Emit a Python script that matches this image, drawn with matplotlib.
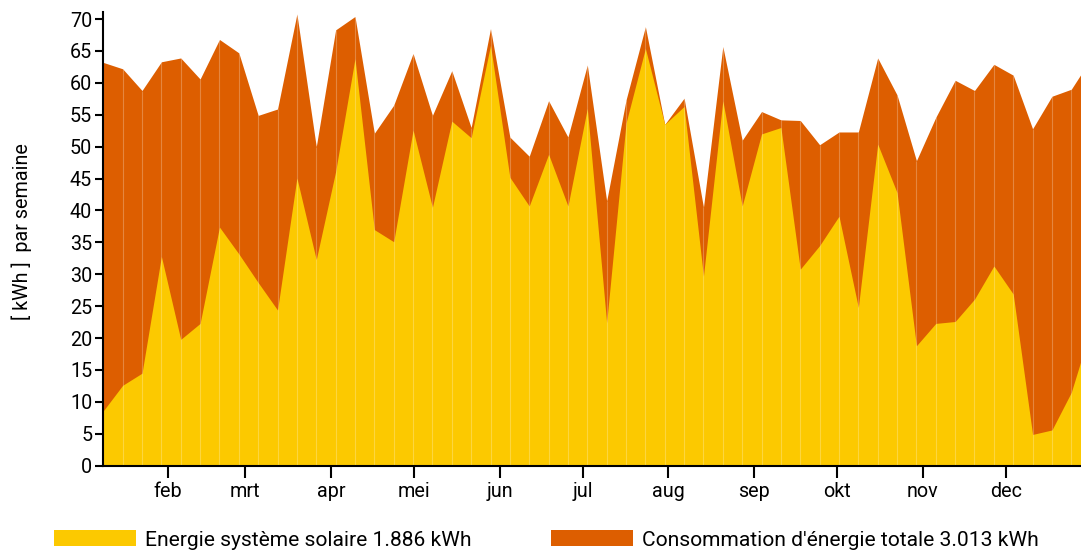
import numpy as np
import matplotlib
matplotlib.use("Agg")
import matplotlib.pyplot as plt
from matplotlib.patches import Patch

# ---- data (kWh per week) ----
solar = [8.6, 12.6, 14.5, 32.8, 19.8, 22.3, 37.4, 33.2, 28.7, 24.4,
         45.1, 32.3, 46.1, 63.8, 37.0, 35.1, 52.6, 40.5, 54.0, 51.4,
         65.9, 45.2, 40.7, 48.8, 40.7, 56.0, 22.4, 53.7, 65.4, 53.5,
         56.3, 29.7, 57.2, 40.7, 52.0, 53.0, 30.8, 34.5, 39.1, 24.8,
         50.4, 42.8, 18.8, 22.3, 22.6, 26.1, 31.3, 26.9, 4.9, 5.6,
         11.5, 21.4]
total = [63.2, 62.2, 58.8, 63.3, 63.9, 60.6, 66.8, 64.7, 54.9, 55.9,
         70.8, 50.0, 68.3, 70.4, 52.1, 56.5, 64.6, 54.9, 61.9, 53.0,
         68.5, 51.5, 48.5, 57.2, 51.5, 62.8, 41.5, 57.3, 68.8, 53.5,
         57.6, 40.5, 65.7, 51.0, 55.5, 54.2, 54.1, 50.3, 52.3, 52.3,
         63.9, 58.1, 47.8, 54.6, 60.4, 58.8, 62.9, 61.2, 52.8, 57.9,
         59.0, 63.7]
months = ["feb", "mrt", "apr", "mei", "jun", "jul", "aug", "sep", "okt", "nov", "dec"]
month_start_doy = [31, 59, 90, 120, 151, 181, 212, 243, 273, 304, 334]
yticks = list(range(0, 71, 5))
label_solar = "Energie système solaire 1.886 kWh"
label_total = "Consommation d'énergie totale 3.013 kWh"
ylabel = "[ kWh ]  par semaine"

YELLOW = "#FCC900"
ORANGE = "#DD5E00"
FONT = ["Roboto", "DejaVu Sans"]
FS = 14.2
LFS = 15.1
LPX = LFS * 100 / 72

plt.rcParams["font.family"] = FONT

W, H = 1081, 551
fig = plt.figure(figsize=(W / 100, H / 100), dpi=100)
ax = fig.add_axes([103.3 / W, (H - 465.7) / H, (W - 103.3) / W, (465.7 - 11.7) / H])

x = np.arange(len(solar))
ax.fill_between(x, 0, total, color=ORANGE, lw=0, zorder=1)
ax.fill_between(x, 0, solar, color=YELLOW, lw=0, zorder=2)
# light seams at each weekly point
ax.vlines(x, 0, total, colors="white", alpha=0.25, lw=0.8, zorder=3)

ax.set_xlim(0, (W - 103.3) / 19.36)
ax.set_ylim(0, 71.15)

# month ticks: first point ~ day 7.7, 7 days per point
tick_pos = [(d - 7.7) / 7.0 for d in month_start_doy]
ax.set_xticks(tick_pos)
ax.set_xticklabels(months, fontsize=FS)
ax.set_yticks(yticks)
ax.set_yticklabels([str(v) for v in yticks], fontsize=FS)

for s in ("top", "right"):
    ax.spines[s].set_visible(False)
for s in ("left", "bottom"):
    ax.spines[s].set_linewidth(1.5)
    ax.spines[s].set_zorder(5)
ax.tick_params(axis="x", direction="out", length=8.5, width=1.5, pad=3)
ax.tick_params(axis="y", direction="out", length=6, width=1.5, pad=2)

ax.set_ylabel(ylabel, fontsize=FS, va="center")
ax.yaxis.set_label_coords((22 - 103.3) / (W - 103.3), (465.7 - 232) / (465.7 - 11.7))

handles = [Patch(facecolor=YELLOW, edgecolor="none", label=label_solar),
           Patch(facecolor=ORANGE, edgecolor="none", label=label_total)]
fig.legend(handles=handles, ncol=2, loc="center left",
           bbox_to_anchor=(54 / W, 1 - 540 / H), frameon=False,
           fontsize=LFS, handlelength=82 / LPX, handleheight=16 / LPX,
           handletextpad=9 / LPX, columnspacing=79.5 / LPX,
           borderpad=0, borderaxespad=0)

fig.savefig("out.png", dpi=100)
